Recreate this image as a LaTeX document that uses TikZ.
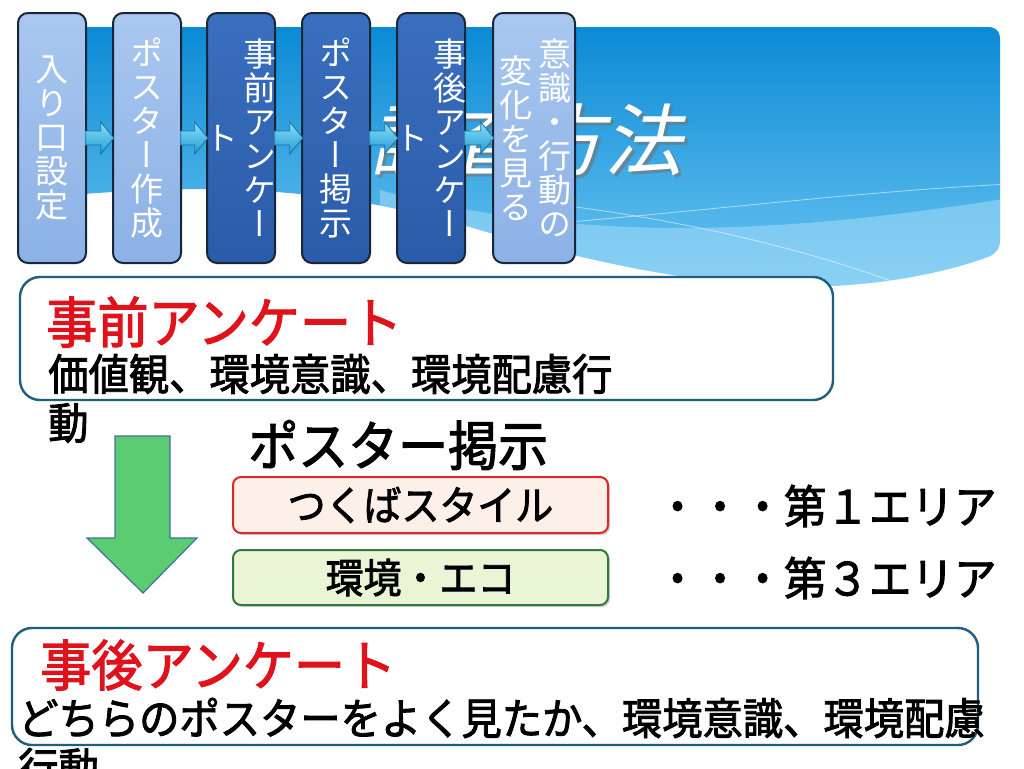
\documentclass[tikz,border=0pt]{standalone}
\usepackage{fontspec}
\setmainfont{Noto Sans CJK JP}
\newfontfamily\jpvert[RawFeature=+vert]{Noto Sans CJK JP}
\newfontfamily\jpnarrow[FakeStretch=0.93, FakeBold=2]{Noto Sans CJK JP}
\newfontfamily\jptitle[FakeSlant=0.22]{Noto Sans CJK JP}
\usetikzlibrary{calc,shadows}
\definecolor{bandtop}{HTML}{0B8AD5}
\definecolor{bandbot}{HTML}{6CC6F2}
\definecolor{bandlight}{HTML}{A4DBF7}
\definecolor{lightboxtop}{HTML}{A9C7F0}
\definecolor{lightbox}{HTML}{8CB1E5}
\definecolor{darkboxtop}{HTML}{3A6FBF}
\definecolor{darkbox}{HTML}{2A5BA8}
\definecolor{boxline}{HTML}{18263A}
\definecolor{arrowtop}{HTML}{8BE0F8}
\definecolor{arrowbot}{HTML}{1E9AD5}
\definecolor{arrowline}{HTML}{17709F}
\definecolor{panelline}{HTML}{1E5F80}
\definecolor{titlered}{HTML}{E0121C}
\definecolor{greenfill}{HTML}{5BCC72}
\definecolor{greenline}{HTML}{41719C}
\definecolor{peach}{HTML}{FDF0E9}
\definecolor{redline}{HTML}{E02626}
\definecolor{palegreen}{HTML}{EAF5D6}
\definecolor{darkgreen}{HTML}{2F7A3A}
\newcommand\flowarrow[2]{%
  \path[flowarrow] let \p1=(#1.east), \p2=(#2.west) in
    (\x1-1pt,\y1+5.25pt) -- (\x2-8.5pt,\y1+5.25pt) -- (\x2-8.5pt,\y1+12pt)
    -- (\x2+1.5pt,\y1) -- (\x2-8.5pt,\y1-12pt) -- (\x2-8.5pt,\y1-5.25pt)
    -- (\x1-1pt,\y1-5.25pt) -- cycle;}
\tikzset{
  stepbox/.style={draw=boxline, line width=1.5pt, rounded corners=7.5pt,
    minimum height=187.5pt, minimum width=51pt, inner sep=0pt},
  lightstep/.style={stepbox, top color=lightboxtop, bottom color=lightbox},
  darkstep/.style={stepbox, top color=darkboxtop, bottom color=darkbox},
  vtext/.style={text=white, inner sep=0pt, align=center,
    font=\jpvert\fontsize{24.75}{25.5}\selectfont},
  flowarrow/.style={top color=arrowtop, bottom color=arrowbot, draw=arrowline, line width=0.6pt},
  panel/.style={draw=panelline, line width=1.8pt, rounded corners=15pt, fill=white, inner sep=0pt},
  heading/.style={text=titlered, inner sep=0pt, anchor=west,
    font=\jpnarrow\fontsize{41.25}{45}\selectfont},
  body/.style={text=black, inner sep=0pt, anchor=west,
    font=\jpnarrow\fontsize{32.5}{36}\selectfont},
  tag/.style={rounded corners=6pt, line width=1.5pt, minimum width=281.25pt,
    inner sep=0pt, drop shadow={opacity=0.35, shadow xshift=1.5pt, shadow yshift=-1.5pt},
    font=\jpnarrow\fontsize{30.6}{34}\selectfont},
  area/.style={text=black, inner sep=0pt, anchor=west,
    font=\jpnarrow\fontsize{34.3}{38}\selectfont},
  titletext/.style={inner sep=0pt, font=\jptitle\fontsize{58.5}{62}\selectfont}
}
\begin{document}
\begin{tikzpicture}[x=0.75pt,y=-0.75pt]
\useasboundingbox (0,0) rectangle (1024,768);
\fill[white] (0,0) rectangle (1024,768);
% banner
\path[top color=bandtop, bottom color=bandbot, rounded corners=8pt]
  (40,27) -- (1000,27) -- (1000,252) [sharp corners]
  .. controls (960,268) and (900,283) .. (830,286)
  .. controls (720,290) and (600,265) .. (480,230)
  .. controls (330,185) and (200,182) .. (40,198) -- cycle;
\begin{scope}
  \clip[rounded corners=8pt]
    (40,27) -- (1000,27) -- (1000,252) [sharp corners]
    .. controls (960,268) and (900,283) .. (830,286)
    .. controls (720,290) and (600,265) .. (480,230)
    .. controls (330,185) and (200,182) .. (40,198) -- cycle;
  \fill[bandlight, opacity=0.55] (380,190) .. controls (600,250) and (820,228) .. (1010,198)
    -- (1010,300) -- (380,300) -- cycle;
  \draw[white, opacity=0.55, line width=0.6pt] (520,226) .. controls (700,212) and (850,192) .. (1010,184);
  \draw[white, opacity=0.55, line width=0.6pt] (560,205) .. controls (720,225) and (850,262) .. (940,300);
\end{scope}
% title
\node[titletext, text=black!55, opacity=0.6] (titleshadow) at (529,143) {調査方法};
\node[titletext, text=white] (title) at (526,140) {調査方法};
% step boxes
\node[lightstep] (s1) at (52,138) {};
\node[lightstep] (s2) at (147,138) {};
\node[darkstep] (s3) at (241,138) {};
\node[darkstep] (s4) at (336,138) {};
\node[darkstep] (s5) at (431,138) {};
\node[lightstep, minimum width=61.5pt] (s6) at (534,138) {};
\node[vtext] (t1) at (s1.center) {入\\り\\口\\設\\定};
\node[vtext] (t2) at (s2.center) {ポ\\ス\\タ\\ー\\作\\成};
\node[vtext] (t3a) at ([xshift=14.25pt]s3.center) {事\\前\\ア\\ン\\ケ\\ー};
\node[vtext] (t3b) at ([xshift=-14.25pt]s3.center) {ト};
\node[vtext] (t4) at (s4.center) {ポ\\ス\\タ\\ー\\掲\\示};
\node[vtext] (t5a) at ([xshift=14.25pt]s5.center) {事\\後\\ア\\ン\\ケ\\ー};
\node[vtext] (t5b) at ([xshift=-14.25pt]s5.center) {ト};
\node[vtext] (t6a) at ([xshift=15.75pt]s6.center) {意\\識\\・\\行\\動\\の};
\node[vtext] (t6b) at ([xshift=-13.5pt]s6.center) {変\\化\\を\\見\\る};
\flowarrow{s1}{s2}
\flowarrow{s2}{s3}
\flowarrow{s3}{s4}
\flowarrow{s4}{s5}
\flowarrow{s5}{s6}
% pre survey panel
\node[panel, minimum width=609.75pt, minimum height=92.25pt] (pre) at (426.5,338.5) {};
\node[heading] (preh) at (46,322) {事前アンケート};
\node[body] (preb1) at (48,374) {価値観、環境意識、環境配慮行};
\node[body] (preb2) at (48,423) {動};
% green arrow
\draw[fill=greenfill, draw=greenline, line width=0.9pt]
  (115,436) -- (170,436) -- (170,538) -- (197,538) -- (143,593) -- (87,538) -- (115,538) -- cycle;
% poster
\node[inner sep=0pt, anchor=west, font=\jpnarrow\fontsize{40.3}{44}\selectfont] (poster) at (248,445) {ポスター掲示};
\node[tag, draw=redline, fill=peach, minimum height=42pt] (tsukuba) at (420.5,505) {つくばスタイル};
\node[tag, draw=darkgreen, fill=palegreen, minimum height=41.25pt] (eco) at (420.5,577.5) {環境・エコ};
\node[area] (area1) at (656,506) {・・・第１エリア};
\node[area] (area3) at (656,578) {・・・第３エリア};
% post survey panel
\node[panel, minimum width=724.5pt, minimum height=87.75pt] (post) at (495,686.5) {};
\node[heading] (posth) at (40,665) {事後アンケート};
\node[body] (postb1) at (18,718) {どちらのポスターをよく見たか、環境意識、環境配慮};
\node[body] (postb2) at (18,768) {行動};
\end{tikzpicture}
\end{document}
